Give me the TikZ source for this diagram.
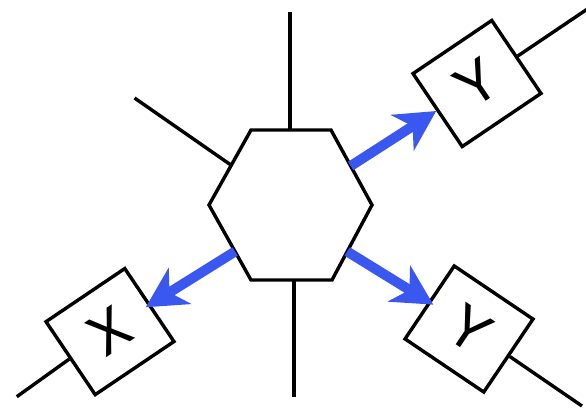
\documentclass[tikz,border=0pt]{standalone}
\usepackage{fontspec}
\newfontfamily\lblfont{TeX Gyre Heros}
\usetikzlibrary{arrows.meta,calc}
\definecolor{arrowblue}{RGB}{58,88,240}
\tikzset{
  wire/.style={line width=3.4pt, black},
  boxnode/.style={draw, line width=3.4pt, fill=white, minimum width=95pt, minimum height=88pt,
    inner sep=0pt, font=\lblfont\fontsize{56}{62}\selectfont},
  flow/.style={line width=10pt, arrowblue, -{Stealth[length=40pt,width=42pt,inset=12pt]}}
}
\begin{document}
\begin{tikzpicture}[x=1pt,y=-1pt]
\useasboundingbox (0,0) rectangle (586,415);
% hexagon vertices
\coordinate (TL) at (251,130);
\coordinate (TR) at (331,130);
\coordinate (R) at (372,205);
\coordinate (BR) at (332,280);
\coordinate (BL) at (251,280);
\coordinate (L) at (209,205);
\draw[wire, fill=white, line join=miter] (TL) -- (TR) -- (R) -- (BR) -- (BL) -- (L) -- cycle;
% attachment points on hexagon
\coordinate (htop) at (290,130);
\coordinate (hbot) at (294,280);
\coordinate (hul) at ($(TL)!0.47!(L)$);
\coordinate (hur) at ($(TR)!0.48!(R)$);
\coordinate (hlr) at ($(R)!0.62!(BR)$);
\coordinate (hll) at ($(L)!0.62!(BL)$);
% free ends of stubs
\coordinate (ttop) at (290,12);
\coordinate (tbot) at (294,397);
\coordinate (tul) at (134.5,98);
% boxes
\node[boxnode, rotate=34] (y1) at (477,83.5) {Y};
\node[boxnode, rotate=-34] (y2) at (469,329) {Y};
\node[boxnode, rotate=34] (x) at (110,331.6) {X};
\coordinate (y1end) at (591,6.6);
\coordinate (y2end) at (582,406);
\coordinate (xend) at (16.8,396.7);
% stubs
\draw[wire] (ttop) -- (htop);
\draw[wire] (hbot) -- (tbot);
\draw[wire] (tul) -- (hul);
\draw[wire] (y1.east) -- (y1end);
\draw[wire] (y2.east) -- (y2end);
\draw[wire] (x.west) -- (xend);
% arrows
\draw[flow] (hur) -- (y1.west);
\draw[flow, shorten >=-6pt] (hlr) -- (y2.west);
\draw[flow, shorten >=-6pt] (hll) -- (x.east);
\end{tikzpicture}
\end{document}
